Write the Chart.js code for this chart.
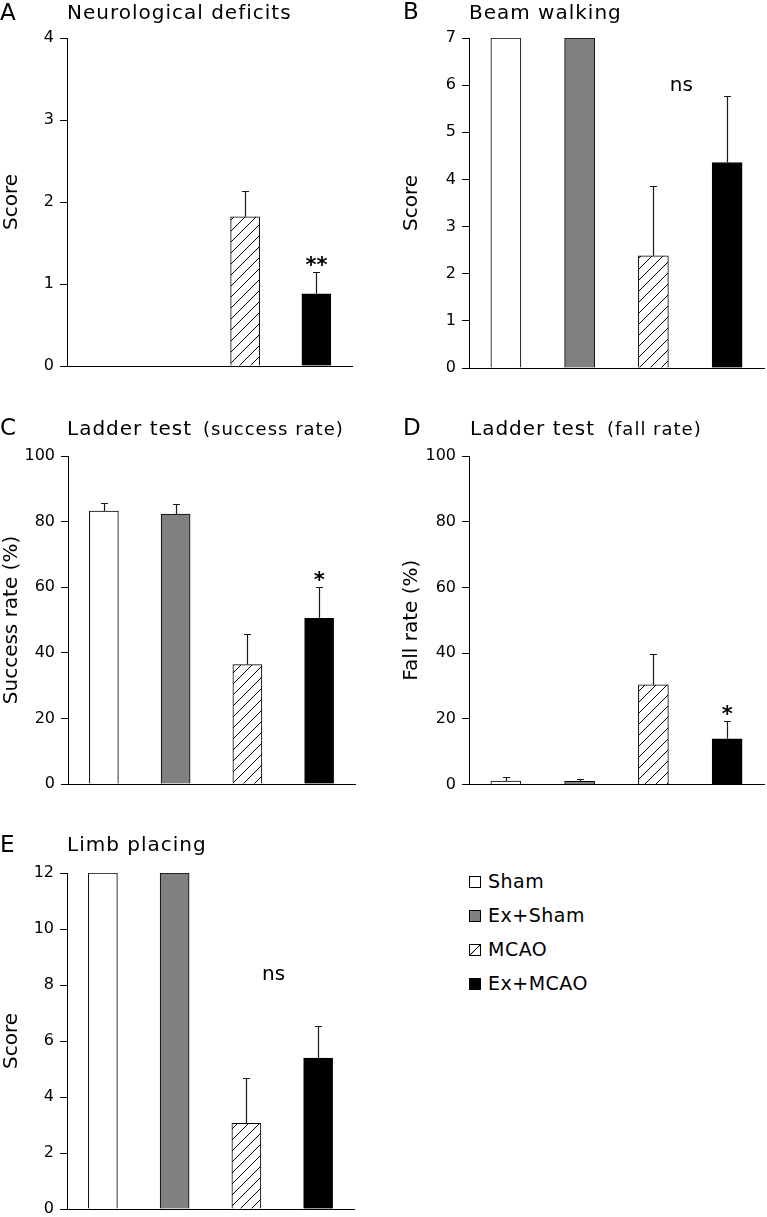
<!DOCTYPE html>
<html><head><meta charset="utf-8">
<script src="https://cdn.jsdelivr.net/npm/chart.js@4.4.1/dist/chart.umd.min.js"></script>
<style>
html,body{margin:0;padding:0;background:#fff;width:767px;height:1217px;overflow:hidden;position:relative;font-family:"DejaVu Sans",Verdana,sans-serif;color:#000}
canvas{position:absolute}
.t{position:absolute;white-space:nowrap;color:#000}
.box{position:absolute;width:12px;height:12px;box-sizing:border-box;border:1px solid #000}
</style></head><body>
<canvas id="cA" width="380" height="390" style="left:0;top:0"></canvas>
<canvas id="cB" width="387" height="390" style="left:380px;top:0"></canvas>
<canvas id="cC" width="380" height="400" style="left:0;top:400px"></canvas>
<canvas id="cD" width="387" height="400" style="left:380px;top:400px"></canvas>
<canvas id="cE" width="380" height="430" style="left:0;top:800px"></canvas>
<script>
// ---------- data ----------
const groups = ['Sham', 'Ex+Sham', 'MCAO', 'Ex+MCAO'];

const neuroMean = [0, 0, 1.82, 0.88];
const neuroSem  = [0, 0, 0.32, 0.27];
const neuroSig  = ['', '', '', '**'];
const neuroTicks = [0, 1, 2, 3, 4];

const beamMean = [7, 7, 2.38, 4.36];
const beamSem  = [0, 0, 1.49, 1.42];
const beamSig  = ['', '', '', ''];
const beamTicks = [0, 1, 2, 3, 4, 5, 6, 7];

const successMean = [83.2, 82.3, 36.4, 50.5];
const successSem  = [2.4, 3.1, 9.3, 9.6];
const successSig  = ['', '', '', '*'];
const successTicks = [0, 20, 40, 60, 80, 100];

const fallMean = [1.0, 0.9, 30.3, 13.9];
const fallSem  = [1.4, 0.8, 9.3, 5.5];
const fallSig  = ['', '', '', '*'];
const fallTicks = [0, 20, 40, 60, 80, 100];

const limbMean = [12, 12, 3.06, 5.39];
const limbSem  = [0, 0, 1.61, 1.13];
const limbSig  = ['', '', '', ''];
const limbTicks = [0, 2, 4, 6, 8, 10, 12];

// ---------- styles ----------
const FAM = '"DejaVu Sans", Verdana, sans-serif';

function hatchPattern() {
  const s = 11;
  const c = document.createElement('canvas');
  c.width = s; c.height = s;
  const g = c.getContext('2d');
  g.fillStyle = '#fff'; g.fillRect(0, 0, s, s);
  g.strokeStyle = '#000'; g.lineWidth = 1;
  g.beginPath();
  g.moveTo(-1, s + 1); g.lineTo(s + 1, -1);
  g.moveTo(-s / 2 - 1, s / 2 + 1); g.lineTo(s / 2 + 1, -s / 2 - 1);
  g.moveTo(s / 2 - 1, s * 1.5 + 1); g.lineTo(s * 1.5 + 1, s / 2 - 1);
  g.stroke();
  return g.createPattern(c, 'repeat');
}
const hatch = hatchPattern();
const fills = ['#ffffff', '#808080', hatch, '#000000'];

const extras = {
  id: 'extras',
  afterDatasetsDraw(chart, args, o) {
    const ctx = chart.ctx;
    const meta = chart.getDatasetMeta(0);
    const y = chart.scales.y;
    const mean = chart.data.datasets[0].data;
    ctx.save();
    ctx.strokeStyle = '#1a1a1a';
    ctx.lineWidth = 1.2;
    meta.data.forEach((bar, i) => {
      const s = o.sem[i];
      const x = Math.round(bar.x) + 0.5;
      const yb = y.getPixelForValue(mean[i]);
      const yt = Math.round(y.getPixelForValue(mean[i] + s)) + 0.5;
      if (s > 0) {
        ctx.beginPath();
        ctx.moveTo(x, yb); ctx.lineTo(x, yt);
        ctx.moveTo(x - 3.5, yt); ctx.lineTo(x + 3.5, yt);
        ctx.stroke();
      }
      if (o.sig[i]) {
        ctx.fillStyle = '#000';
        ctx.font = 'bold 21px ' + FAM;
        ctx.textAlign = 'center';
        ctx.textBaseline = 'alphabetic';
        ctx.fillText(o.sig[i], bar.x, yt - 1);
      }
    });
    if (o.ns) {
      const a = meta.data[o.ns.from].x, b = meta.data[o.ns.from + 1].x;
      ctx.fillStyle = '#000';
      ctx.font = '20px ' + FAM;
      ctx.textAlign = 'center';
      ctx.textBaseline = 'alphabetic';
      ctx.fillText(o.ns.text, a + (b - a) * o.ns.frac, y.getPixelForValue(o.ns.value));
    }
    ctx.restore();
  }
};
Chart.register(extras);

function makeChart(id, mean, sem, sig, ticks, yTitle, lay, ns) {
  new Chart(document.getElementById(id), {
    type: 'bar',
    data: {
      labels: groups,
      datasets: [{
        data: mean,
        backgroundColor: fills,
        borderColor: '#000',
        borderWidth: 1,
        barThickness: lay.bw
      }]
    },
    options: {
      responsive: false,
      animation: false,
      devicePixelRatio: 1,
      layout: { padding: { left: lay.pl, right: lay.pr, top: lay.pt, bottom: lay.pb } },
      plugins: {
        legend: { display: false },
        tooltip: { enabled: false },
        title: { display: false },
        extras: { sem: sem, sig: sig, ns: ns }
      },
      scales: {
        x: {
          grid: { display: false },
          ticks: { display: false },
          border: { display: true, color: '#000', width: 1 },
          afterFit: s => { s.height = 0; }
        },
        y: {
          min: ticks[0],
          max: ticks[ticks.length - 1],
          ticks: { stepSize: ticks[1] - ticks[0], color: '#000', font: { family: FAM, size: 16 }, padding: 6 },
          grid: { display: true, drawOnChartArea: false, drawTicks: true, tickLength: 7, color: '#000', lineWidth: 1 },
          border: { display: true, color: '#000', width: 1 },
          title: { display: true, text: yTitle, color: '#000', font: { family: FAM, size: 20 }, padding: 0 },
          afterFit: s => { s.width = lay.yw; }
        }
      }
    }
  });
}

makeChart('cA', neuroMean, neuroSem, neuroSig, neuroTicks, 'Score',
  { pl: 0, yw: 67, pr: 28, pt: 38, pb: 24, bw: 29 }, null);
makeChart('cB', beamMean, beamSem, beamSig, beamTicks, 'Score',
  { pl: 20, yw: 69, pr: 3, pt: 38, pb: 22, bw: 30 }, { text: 'ns', from: 2, frac: 0.38, value: 5.87 });
makeChart('cC', successMean, successSem, successSig, successTicks, 'Success rate (%)',
  { pl: 0, yw: 68, pr: 25, pt: 56, pb: 16, bw: 29 }, null);
makeChart('cD', fallMean, fallSem, fallSig, fallTicks, 'Fall rate (%)',
  { pl: 20, yw: 69, pr: 3, pt: 56, pb: 14, bw: 30 }, null);
makeChart('cE', limbMean, limbSem, limbSig, limbTicks, 'Score',
  { pl: 0, yw: 67, pr: 26, pt: 73, pb: 21, bw: 29 }, { text: 'ns', from: 2, frac: 0.38, value: 8.17 });

// ---------- text ----------
function put(text, x, baseline, size, ls) {
  const d = document.createElement('div');
  d.className = 't';
  d.textContent = text;
  d.style.fontSize = size + 'px';
  d.style.lineHeight = size + 'px';
  d.style.letterSpacing = (ls || 0) + 'px';
  d.style.left = x + 'px';
  d.style.top = (baseline - 0.846 * size) + 'px';
  document.body.appendChild(d);
}
put('A', 0, 20, 23);
put('Neurological deficits', 67, 18.5, 20, 1);
put('B', 403, 19, 23);
put('Beam walking', 469, 18.5, 20, 1);
put('C', 0, 435, 23);
put('Ladder test', 67, 435, 20, 1);
put('(success rate)', 203, 435, 18, 1);
put('D', 403, 435, 23);
put('Ladder test', 470, 435, 20, 1);
put('(fall rate)', 607, 435, 18, 1);
put('E', 0, 852, 23);
put('Limb placing', 67, 851, 20, 1);

// legend
const legendY = [888, 922, 956, 990];
const legendBg = ['#ffffff', '#808080',
  'linear-gradient(to bottom right, #fff calc(50% - 0.8px), #000 50%, #fff calc(50% + 0.8px))', '#000000'];
groups.forEach((g, i) => {
  const b = document.createElement('div');
  b.className = 'box';
  b.style.left = '469px';
  b.style.top = (legendY[i] - 12) + 'px';
  b.style.background = legendBg[i];
  document.body.appendChild(b);
  put(g, 488, legendY[i], 19, 0.5);
});
</script>
</body></html>
